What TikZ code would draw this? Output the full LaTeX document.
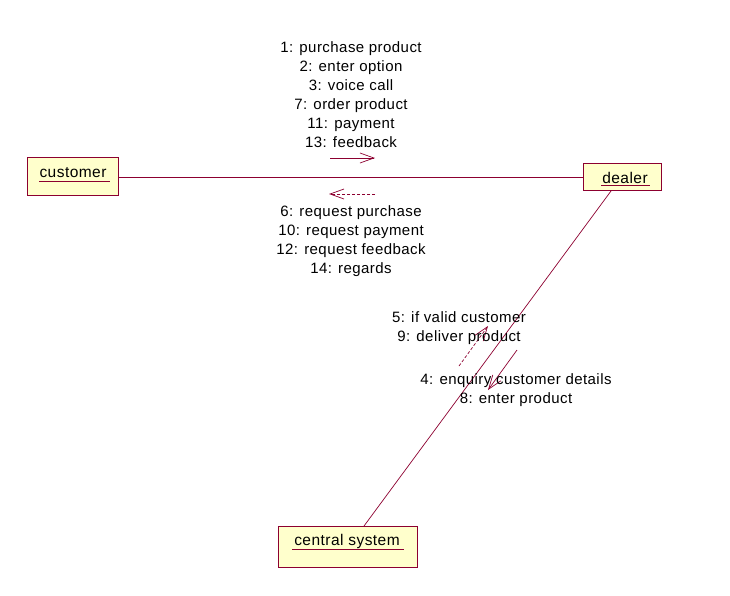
\documentclass[tikz,border=0pt]{standalone}
\usepackage{fontspec}
\setmainfont{Liberation Sans}[LetterSpace=3]
\usetikzlibrary{arrows.meta,calc}
\definecolor{umlred}{HTML}{8C0030}
\definecolor{umlfill}{HTML}{FFFFCC}
\begin{document}
\begin{tikzpicture}[x=1pt,y=-1pt,
  obj/.style={draw=umlred,fill=umlfill,line width=0.8pt,inner sep=0pt,anchor=north west},
  objtext/.style={font=\fontsize{15.5}{18}\selectfont},
  lbl/.style={font=\fontsize{15}{19}\selectfont,align=center,inner sep=0pt},
  link/.style={draw=umlred,line width=0.7pt},
  msg/.style={draw=umlred,line width=0.7pt,-{Straight Barb[length=14pt,width=10pt]}},
  dmsg/.style={msg,dash pattern=on 3pt off 2pt}]
\useasboundingbox (0,0) rectangle (730,595);
% objects
\node[obj,minimum width=91pt,minimum height=38pt] (cust) at (27,157) {};
\node[objtext] (custt) at (73,172.5) {customer};
\draw[link] (39,181) -- (110,181);
\node[obj,minimum width=78pt,minimum height=27pt] (deal) at (583,163) {};
\node[objtext] (dealt) at (625,177.5) {dealer};
\draw[link] (601,185) -- (650,185);
\node[obj,minimum width=139pt,minimum height=41pt] (cent) at (278,526) {};
\node[objtext] (centt) at (347,541.5) {central system};
\draw[link] (292,549) -- (404,549);
% links
\coordinate (dl) at (583,177);
\coordinate (dtop) at (611,191);
\coordinate (ctop) at (364,526);
\draw[link] (cust.east |- dl) -- (dl);
\draw[link] (dtop) -- (ctop);
% horizontal messages
\coordinate (f1) at (330,158); \coordinate (f2) at (375,158);
\draw[msg] (f1) -- (f2);
\coordinate (b1) at (375,194); \coordinate (b2) at (329,194);
\draw[dmsg] (b1) -- (b2);
\node[lbl] (up) at (351,95) {1: purchase product\\2: enter option\\3: voice call\\7: order product\\11: payment\\13: feedback};
\node[lbl] (down) at (351,241) {6: request purchase\\10: request payment\\12: request feedback\\14: regards};
% diagonal messages
\coordinate (d1) at (459,366); \coordinate (d2) at (488,326);
\draw[dmsg] (d1) -- (d2);
\coordinate (s1) at (517,350); \coordinate (s2) at (488,390);
\draw[msg] (s1) -- (s2);
\node[lbl] (m5) at (459,328.5) {5: if valid customer\\9: deliver product};
\node[lbl] (m4) at (516,390) {4: enquiry customer details\\8: enter product};
\end{tikzpicture}
\end{document}
